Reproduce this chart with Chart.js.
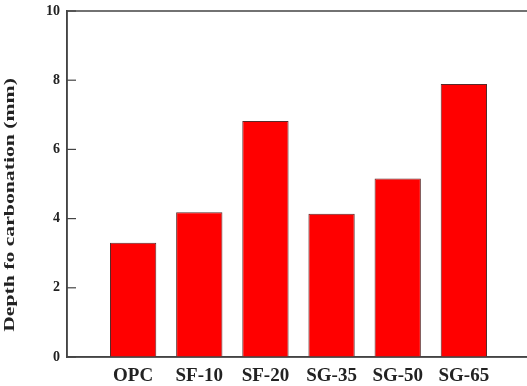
<!DOCTYPE html>
<html>
<head>
<meta charset="utf-8">
<style>
    html, body { margin: 0; padding: 0; background: #fff; overflow: hidden; }
    #wrap { width: 538px; height: 386px; position: relative; }
</style>
<script src="https://cdn.jsdelivr.net/npm/chart.js"></script>
</head>
<body>
<div id="wrap"><canvas id="carbChart"></canvas></div>
<script>
    // Datos
    const categorias = ['OPC', 'SF-10', 'SF-20', 'SG-35', 'SG-50', 'SG-65'];
    const profundidad = [3.3, 4.18, 6.82, 4.14, 5.16, 7.89];
    const ticksY = [0, 2, 4, 6, 8, 10];
    const tituloY = 'Depth fo carbonation (mm)';

    // Huecos vacíos a cada lado, como en la figura original
    const etiquetas = ['', ...categorias, ''];
    const valores = [null, ...profundidad, null];

    const fuente = "'Liberation Serif', 'Times New Roman', serif";

    // Marco del área, marcas de eje hacia dentro y título del eje Y (estirado como en la figura)
    const marcoPlugin = {
        id: 'marco',
        afterDraw(chart) {
            const ctx = chart.ctx;
            const a = chart.chartArea;
            const y = chart.scales.y;
            ctx.save();
            ctx.strokeStyle = '#444';
            ctx.lineWidth = 1.5;
            ctx.strokeRect(a.left, a.top, a.right - a.left, a.bottom - a.top);
            ctx.lineWidth = 1.2;
            ticksY.forEach(v => {
                const py = y.getPixelForValue(v);
                ctx.beginPath();
                ctx.moveTo(a.left, py);
                ctx.lineTo(a.left + 9, py);
                ctx.stroke();
            });
            ctx.restore();

            // título del eje Y
            ctx.save();
            ctx.translate(y.left + 10, (a.top + a.bottom) / 2 + 21);
            ctx.rotate(-Math.PI / 2);
            ctx.scale(1.55, 1);
            ctx.font = 'bold 14px ' + fuente;
            ctx.fillStyle = '#222';
            ctx.textAlign = 'center';
            ctx.textBaseline = 'middle';
            ctx.fillText(tituloY, 0, 0);
            ctx.restore();
        }
    };

    const ctx = document.getElementById('carbChart').getContext('2d');
    const chart = new Chart(ctx, {
        type: 'bar',
        data: {
            labels: etiquetas,
            datasets: [{
                data: valores,
                backgroundColor: '#ff0000',
                borderColor: '#5a2a2a',
                borderWidth: 1,
                categoryPercentage: 1,
                barPercentage: 0.7
            }]
        },
        options: {
            responsive: true,
            maintainAspectRatio: false,
            animation: false,
            layout: { padding: { top: 11, right: 0, bottom: 0, left: 0 } },
            plugins: {
                legend: { display: false },
                tooltip: { enabled: false }
            },
            scales: {
                x: {
                    offset: false,
                    afterFit(scale) { scale.height = 29; },
                    grid: { display: false, drawTicks: false },
                    border: { display: true, color: '#444', width: 1.5 },
                    ticks: {
                        color: '#222',
                        padding: 8,
                        maxRotation: 0,
                        autoSkip: false,
                        font: { family: fuente, size: 19, weight: 'bold' }
                    }
                },
                y: {
                    min: 0,
                    max: 10,
                    afterBuildTicks(scale) {
                        scale.ticks = ticksY.map(v => ({ value: v }));
                    },
                    afterFit(scale) {
                        scale.width = 67;
                        scale.paddingTop = 0;
                        scale.paddingBottom = 0;
                    },
                    grid: { display: false, drawTicks: false },
                    border: { display: true, color: '#444', width: 1.5 },
                    ticks: {
                        color: '#222',
                        padding: 7,
                        font: { family: fuente, size: 14, weight: 'bold' }
                    }
                }
            }
        },
        plugins: [marcoPlugin]
    });
</script>
</body>
</html>
